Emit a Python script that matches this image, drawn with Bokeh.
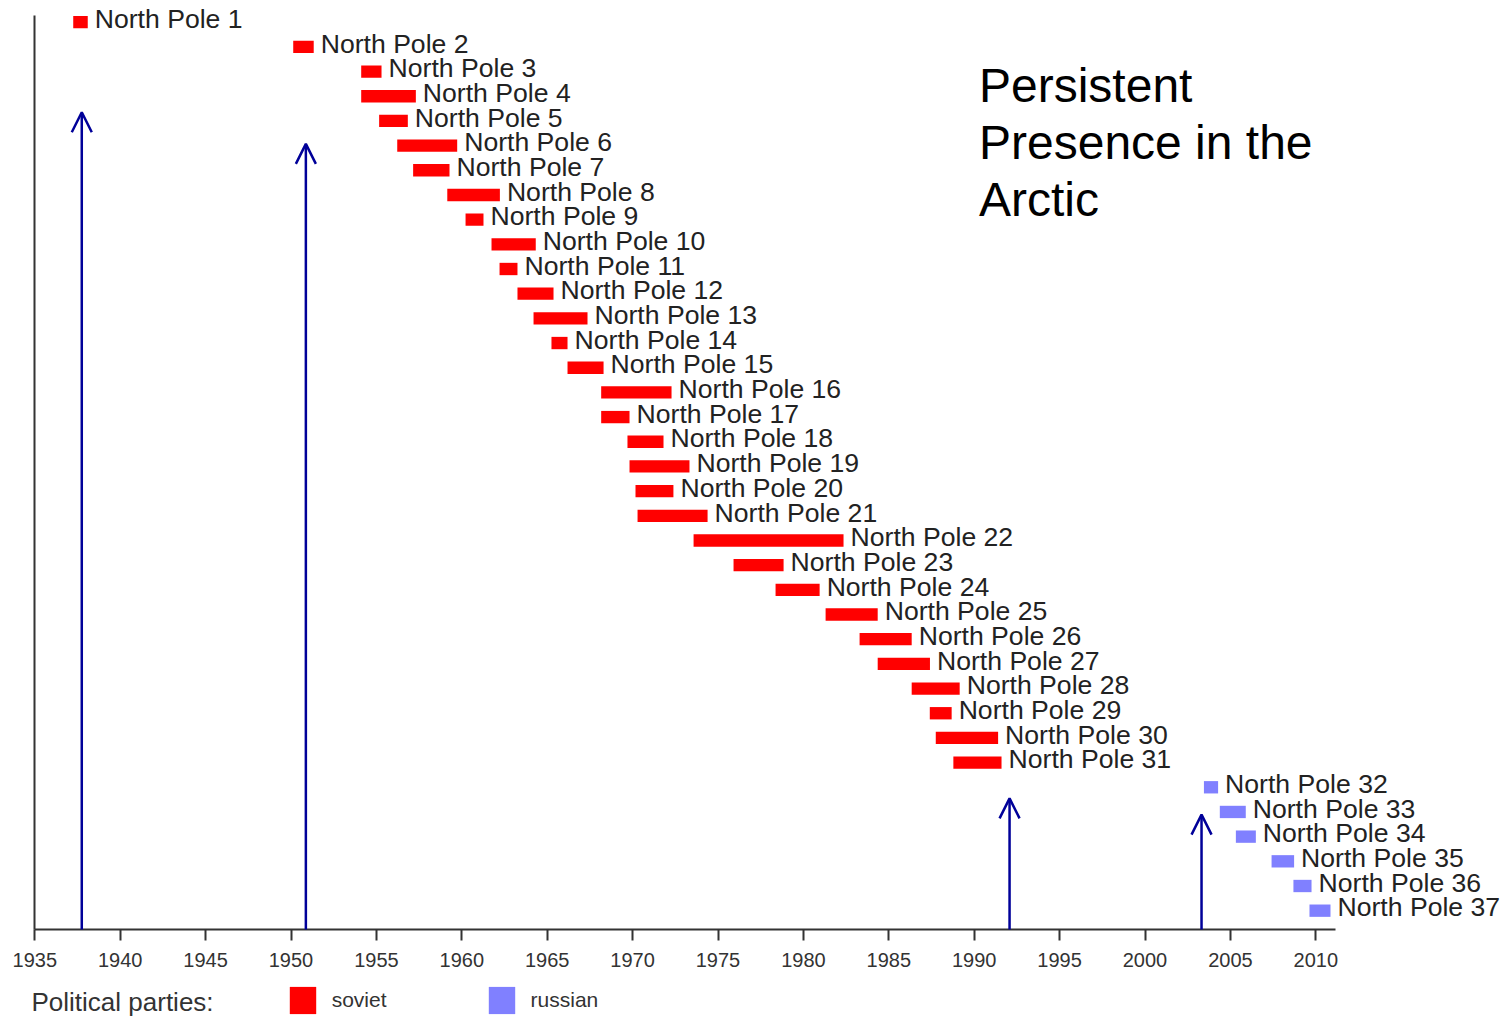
from bokeh.plotting import figure
from bokeh.models import (Range1d, FixedTicker, Arrow, OpenHead, Label, Legend,
                          LegendItem, ColumnDataSource)
from bokeh.core.properties import value
from bokeh.embed import file_html
from bokeh.resources import INLINE

# ---------------- data ----------------
stations = ["North Pole 1", "North Pole 2", "North Pole 3", "North Pole 4", "North Pole 5",
            "North Pole 6", "North Pole 7", "North Pole 8", "North Pole 9", "North Pole 10",
            "North Pole 11", "North Pole 12", "North Pole 13", "North Pole 14", "North Pole 15",
            "North Pole 16", "North Pole 17", "North Pole 18", "North Pole 19", "North Pole 20",
            "North Pole 21", "North Pole 22", "North Pole 23", "North Pole 24", "North Pole 25",
            "North Pole 26", "North Pole 27", "North Pole 28", "North Pole 29", "North Pole 30",
            "North Pole 31", "North Pole 32", "North Pole 33", "North Pole 34", "North Pole 35",
            "North Pole 36", "North Pole 37"]
start_year = [1937.25, 1950.13, 1954.11, 1954.11, 1955.16, 1956.22, 1957.15, 1959.15, 1960.22, 1961.74,
              1962.21, 1963.26, 1964.20, 1965.25, 1966.19, 1968.16, 1968.16, 1969.70, 1969.82, 1970.17,
              1970.29, 1973.57, 1975.91, 1978.37, 1981.30, 1983.29, 1984.35, 1986.34, 1987.40, 1987.75,
              1988.78, 2003.45, 2004.38, 2005.32, 2007.41, 2008.69, 2009.63]
end_year = [1938.10, 1951.33, 1955.30, 1957.31, 1956.84, 1959.73, 1959.28, 1962.23, 1961.27, 1964.33,
            1963.26, 1965.37, 1967.36, 1966.19, 1968.30, 1972.28, 1969.82, 1971.81, 1973.33, 1972.39,
            1974.39, 1982.35, 1978.84, 1980.95, 1984.35, 1986.34, 1987.41, 1989.15, 1988.68, 1991.40,
            1991.60, 2004.28, 2005.90, 2006.49, 2008.73, 2009.75, 2010.86]
party = ["soviet"] * 31 + ["russian"] * 6
parties = ["soviet", "russian"]
party_colors = ["#ff0000", "#8080ff"]
x_ticks = [1935, 1940, 1945, 1950, 1955, 1960, 1965, 1970, 1975, 1980, 1985, 1990,
           1995, 2000, 2005, 2010]
arrow_year = [1937.75, 1950.87, 1992.07, 2003.31]
arrow_tip = [4.65, 5.93, 32.45, 33.11]   # in row units
title_lines = ["Persistent", "Presence in the", "Arctic"]

rows = list(range(1, len(stations) + 1))

# ---------------- figure ----------------
W, H = 1501, 1017
PX_PER_YEAR = 17.08
X0_PX = 34.3            # pixel of year 1935
ROW_PX = 24.68
ROW1_PX = 21.7


def yr_at(px):
    return 1935 + (px - X0_PX) / PX_PER_YEAR


def row_at(py):
    return 1 + (py - ROW1_PX) / ROW_PX


AXIS_ROW = row_at(929)
p = figure(width=W, height=H,
           x_range=Range1d(yr_at(0), yr_at(W)),
           y_range=Range1d(row_at(H), row_at(0)),
           output_backend="svg", toolbar_location=None, min_border=0)
p.grid.visible = False
p.outline_line_color = None
p.background_fill_color = "white"

FONT = value("Liberation Sans")

renderers = {}
for pname, pcol in zip(parties, party_colors):
    idx = [i for i, pp in enumerate(party) if pp == pname]
    src = ColumnDataSource(dict(
        y=[rows[i] for i in idx],
        left=[start_year[i] for i in idx],
        right=[end_year[i] for i in idx],
        name=[stations[i] for i in idx],
    ))
    renderers[pname] = p.hbar(y="y", left="left", right="right", height=0.5, source=src,
                              fill_color=pcol, line_color=None)
    p.text(x="right", y="y", text="name", source=src, x_offset=7, y_offset=-3.3,
           text_font=FONT, text_font_size="26.6px", text_color="#222222",
           text_baseline="alphabetic", text_align="left")

# axes
xa = p.xaxis[0]
xa.fixed_location = AXIS_ROW
xa.bounds = (1935, 2011.15)
xa.ticker = FixedTicker(ticks=x_ticks, minor_ticks=[])
xa.axis_line_width = 2
xa.axis_line_color = "#333333"
xa.major_tick_line_width = 2
xa.major_tick_line_color = "#333333"
xa.major_tick_out = 11
xa.major_tick_in = 0
xa.minor_tick_line_color = None
xa.major_label_standoff = 12
xa.major_label_text_font = "Liberation Sans"
xa.major_label_text_font_size = "20px"
xa.major_label_text_color = "#333333"

ya = p.yaxis[0]
ya.fixed_location = 1935
ya.bounds = (row_at(15), AXIS_ROW)
ya.ticker = FixedTicker(ticks=[], minor_ticks=[])
ya.axis_line_width = 2
ya.axis_line_color = "#333333"
ya.major_tick_line_color = None
ya.minor_tick_line_color = None
ya.major_label_text_font_size = "0px"

# arrows
asrc = ColumnDataSource(dict(x0=arrow_year, y0=[AXIS_ROW] * len(arrow_year),
                             x1=arrow_year, y1=arrow_tip))
p.add_layout(Arrow(source=asrc, x_start="x0", y_start="y0", x_end="x1", y_end="y1",
                   line_color="#000099", line_width=2.5,
                   end=OpenHead(size=20, line_color="#000099", line_width=2.5)))

# title text
for line, py in zip(title_lines, [85.2, 142.2, 198.9]):
    p.add_layout(Label(x=yr_at(978.5), y=row_at(py), text=line, text_font="Liberation Sans",
                       text_font_size="48px", text_color="#000000",
                       text_baseline="alphabetic"))

# legend
p.add_layout(Label(x=yr_at(31), y=row_at(1001.4), text="Political parties:",
                   text_font="Liberation Sans", text_font_size="26px",
                   text_color="#333333", text_baseline="alphabetic"))
legend = Legend(items=[LegendItem(label=pn, renderers=[renderers[pn]]) for pn in parties],
                orientation="horizontal", location=(285.7, 0),
                glyph_width=33, glyph_height=34, label_standoff=13, spacing=98,
                padding=0, margin=0, border_line_color=None, background_fill_alpha=0,
                label_text_font="Liberation Sans", label_text_font_size="21px",
                label_text_color="#333333")
p.add_layout(legend, "center")

open("out.html", "w").write(file_html(p, INLINE))
